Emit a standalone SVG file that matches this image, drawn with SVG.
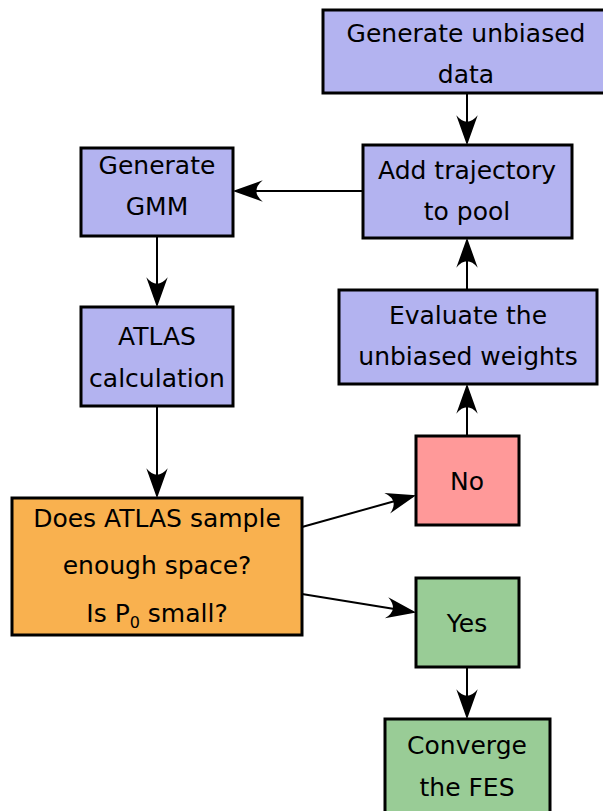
<svg xmlns="http://www.w3.org/2000/svg" width="603" height="811" viewBox="0 0 603 811">
<style>
.box{stroke:#000;stroke-width:3}
.blue{fill:#b3b3f0}
.orange{fill:#f9b14f}
.red{fill:#ff9999}
.green{fill:#99cc96}
text{font-family:"DejaVu Sans",sans-serif;font-size:25px;fill:#000;text-anchor:middle}
.c{stroke:#000;stroke-width:2;fill:none;marker-end:url(#ah)}
</style>
<defs>
<marker id="ah" markerUnits="userSpaceOnUse" markerWidth="40" markerHeight="30" viewBox="-32 -14 34 28" refX="-3" refY="0" orient="auto">
<path d="M0,0 L-28,-10 Q-16,0 -28,10 Z" fill="#000"/>
</marker>
</defs>
<g id="connectors">
<path class="c" d="M467,93 V142"/>
<path class="c" d="M366,191 H236"/>
<path class="c" d="M157,236 V304"/>
<path class="c" d="M157,406 V495"/>
<path class="c" d="M302,527 L413,496"/>
<path class="c" d="M302,594 L413,612"/>
<path class="c" d="M467,667 V716"/>
<path class="c" d="M467,436 V387"/>
<path class="c" d="M467,290 V241"/>
</g>
<g id="gen-unbiased">
<rect class="box blue" x="323" y="10" width="284" height="83"/>
<text x="466" y="42">Generate unbiased</text>
<text x="466" y="83">data</text>
</g>
<g id="add-traj">
<rect class="box blue" x="363" y="145" width="209" height="93"/>
<text x="467" y="179">Add trajectory</text>
<text x="467" y="220">to pool</text>
</g>
<g id="gen-gmm">
<rect class="box blue" x="81" y="148" width="152" height="88"/>
<text x="157" y="174">Generate</text>
<text x="157" y="215">GMM</text>
</g>
<g id="atlas">
<rect class="box blue" x="81" y="307" width="152" height="99"/>
<text x="157" y="345">ATLAS</text>
<text x="157" y="387">calculation</text>
</g>
<g id="evaluate">
<rect class="box blue" x="339" y="290" width="258" height="94"/>
<text x="468" y="324">Evaluate the</text>
<text x="468" y="365">unbiased weights</text>
</g>
<g id="no">
<rect class="box red" x="416" y="436" width="103" height="89"/>
<text x="467" y="490">No</text>
</g>
<g id="decision">
<rect class="box orange" x="12" y="498" width="290" height="137"/>
<text x="157" y="527">Does ATLAS sample</text>
<text x="157" y="574">enough space?</text>
<text x="157" y="622">Is P<tspan font-size="16" dy="6">0</tspan><tspan dy="-6"> small?</tspan></text>
</g>
<g id="yes">
<rect class="box green" x="416" y="578" width="103" height="89"/>
<text x="467" y="632">Yes</text>
</g>
<g id="converge">
<rect class="box green" x="385" y="719" width="165" height="100"/>
<text x="467" y="754">Converge</text>
<text x="467" y="796">the FES</text>
</g>
</svg>
